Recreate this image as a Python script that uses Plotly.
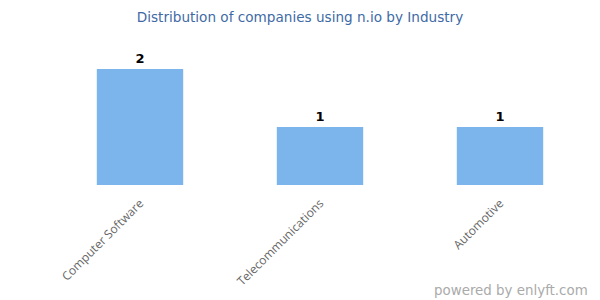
import plotly.graph_objects as go

categories = ["Computer Software", "Telecommunications", "Automotive"]
values = [2, 1, 1]

fig = go.Figure()
fig.add_trace(go.Bar(
    x=categories, y=values,
    marker=dict(color="#7cb5ec", line=dict(width=0)),
    width=0.48,
    text=[str(v) for v in values],
    texttemplate="<b>%{text}</b>",
    textposition="outside",
    textfont=dict(family="DejaVu Sans", size=13, color="#000000"),
    cliponaxis=False,
))
fig.update_layout(
    width=600, height=300,
    margin=dict(l=50, r=10, t=69, b=115),
    paper_bgcolor="white", plot_bgcolor="white",
    showlegend=False,
    title=dict(text="Distribution of companies using n.io by Industry",
               x=0.5, xanchor="center", y=1 - 17/300, yanchor="middle",
               font=dict(family="DejaVu Sans", size=13.6, color="#3e6aa5")),
    xaxis=dict(tickangle=-45, showgrid=False, showline=False, zeroline=False,
               ticks="", ticklabelstandoff=8,
               tickfont=dict(family="Open Sans", size=12, color="#666666")),
    yaxis=dict(range=[0, 2], visible=False, showgrid=False, zeroline=False),
)
fig.add_annotation(text="powered by enlyft.com", xref="paper", yref="paper",
                   x=(590 - 50) / 540, xanchor="right",
                   y=-(290 - 185) / 116, yanchor="middle",
                   showarrow=False,
                   font=dict(family="DejaVu Sans", size=13.4, color="#aaaaaa"))
fig.write_html("out.html")
